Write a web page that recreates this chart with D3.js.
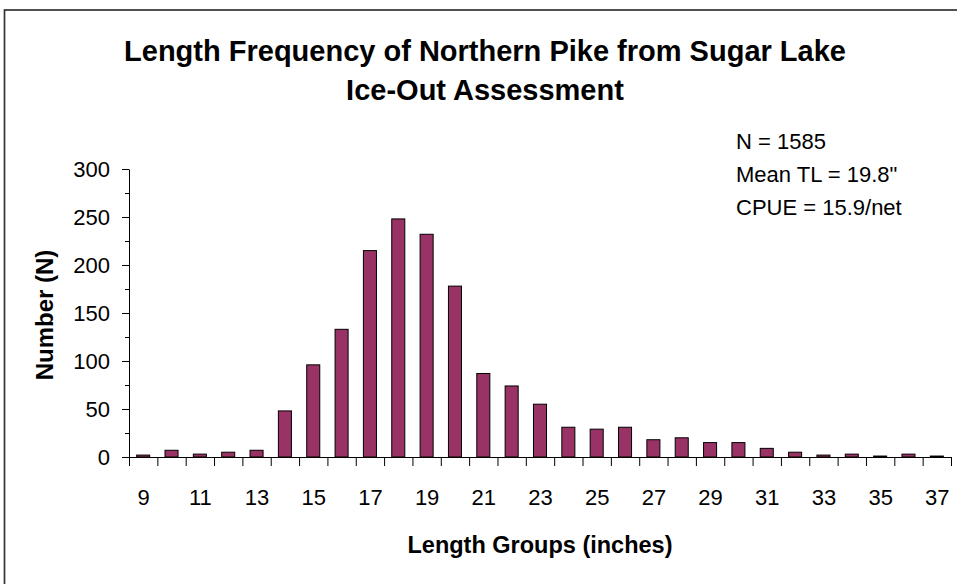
<!DOCTYPE html>
<html lang="en">
<head>
    <meta charset="UTF-8">
    <title>Length Frequency of Northern Pike</title>
    <script src="https://cdn.jsdelivr.net/npm/d3@7"></script>
    <style>
        html, body {
            margin: 0;
            padding: 0;
            background: white;
        }
        svg text {
            font-family: "Liberation Sans", Arial, sans-serif;
            fill: black;
        }
        .axis path, .axis line {
            stroke: black;
            stroke-width: 1;
        }
        rect.bar {
            fill: #993366;
            stroke: black;
            stroke-width: 1;
        }
    </style>
</head>
<body>
<svg id="chart" width="957" height="584"></svg>

<script>
    // length groups (inches) and fish counts
    var lengths = [9, 10, 11, 12, 13, 14, 15, 16, 17, 18, 19, 20, 21, 22, 23,
                   24, 25, 26, 27, 28, 29, 30, 31, 32, 33, 34, 35, 36, 37];
    var counts = [2, 7, 3, 5, 7, 48, 96, 133, 215, 248, 232, 178, 87, 74, 55,
                  31, 29, 31, 18, 20, 15, 15, 9, 5, 2, 3, 1, 3, 1];
    var yTicks = [0, 50, 100, 150, 200, 250, 300];
    var xLabels = [9, 11, 13, 15, 17, 19, 21, 23, 25, 27, 29, 31, 33, 35, 37];
    var titleLines = ["Length Frequency of Northern Pike from Sugar Lake", "Ice-Out Assessment"];
    var notes = ["N = 1585", "Mean TL = 19.8\"", "CPUE = 15.9/net"];

    var svg = d3.select("#chart");

    // outer chart border (right and bottom fall outside the picture)
    svg.append("rect")
        .attr("x", 4.5)
        .attr("y", 10)
        .attr("width", 960)
        .attr("height", 600)
        .attr("fill", "none")
        .attr("stroke", "#333")
        .attr("stroke-width", 1.7);

    var plot = { left: 129, right: 951, top: 169, bottom: 457 };

    // each length group centred on its own value, bars half a unit wide either side
    var x = d3.scaleLinear()
        .domain([lengths[0] - 0.5, lengths[lengths.length - 1] + 0.5])
        .range([plot.left, plot.right]);

    var y = d3.scaleLinear()
        .domain([0, 300])
        .range([plot.bottom, plot.top]);

    var barHalf = 0.23;

    svg.append("g")
        .selectAll("rect")
        .data(lengths)
        .enter()
        .append("rect")
        .attr("class", "bar")
        .attr("x", function(d) { return x(d - barHalf); })
        .attr("width", function(d) { return x(d + barHalf) - x(d - barHalf); })
        .attr("y", function(d, i) { return y(counts[i]); })
        .attr("height", function(d, i) { return y(0) - y(counts[i]); });

    // y axis: minor ticks then major ticks with labels
    var minor = d3.range(25, 300, 50);
    svg.append("g")
        .attr("class", "axis")
        .attr("transform", "translate(" + plot.left + ",0)")
        .call(d3.axisLeft(y).tickValues(minor).tickSize(4).tickFormat(""))
        .select(".domain").remove();

    var yAxis = svg.append("g")
        .attr("class", "axis")
        .attr("transform", "translate(" + plot.left + ",0)")
        .call(d3.axisLeft(y).tickValues(yTicks).tickSize(7).tickSizeOuter(0).tickPadding(12));
    yAxis.selectAll("text")
        .style("font-size", "22px")
        .attr("dy", "0.36em");

    // x axis: ticks on group boundaries, labels under odd lengths
    var bounds = lengths.map(function(d) { return d - 0.5; });
    bounds.push(lengths[lengths.length - 1] + 0.5);
    svg.append("g")
        .attr("class", "axis")
        .attr("transform", "translate(0," + plot.bottom + ")")
        .call(d3.axisBottom(x).tickValues(bounds).tickSize(9).tickSizeOuter(0).tickFormat(""));

    var xLab = svg.append("g")
        .attr("class", "axis")
        .attr("transform", "translate(0," + plot.bottom + ")")
        .call(d3.axisBottom(x).tickValues(xLabels).tickSize(0).tickPadding(32).tickFormat(d3.format("d")));
    xLab.select(".domain").remove();
    xLab.selectAll("text")
        .style("font-size", "22px")
        .attr("dy", "0.71em");

    // titles
    svg.selectAll("text.title")
        .data(titleLines)
        .enter()
        .append("text")
        .attr("class", "title")
        .attr("x", 485)
        .attr("y", function(d, i) { return 61 + i * 39; })
        .attr("text-anchor", "middle")
        .style("font-size", "29px")
        .style("font-weight", "bold")
        .text(function(d) { return d; });

    svg.append("text")
        .attr("x", (plot.left + plot.right) / 2)
        .attr("y", 553)
        .attr("text-anchor", "middle")
        .style("font-size", "23.5px")
        .style("font-weight", "bold")
        .text("Length Groups (inches)");

    svg.append("text")
        .attr("transform", "translate(53," + 315 + ") rotate(-90)")
        .attr("text-anchor", "middle")
        .style("font-size", "24px")
        .style("font-weight", "bold")
        .text("Number (N)");

    // summary notes
    svg.selectAll("text.note")
        .data(notes)
        .enter()
        .append("text")
        .attr("class", "note")
        .attr("x", 736)
        .attr("y", function(d, i) { return 149 + i * 33; })
        .style("font-size", "22px")
        .text(function(d) { return d; });
</script>
</body>
</html>
